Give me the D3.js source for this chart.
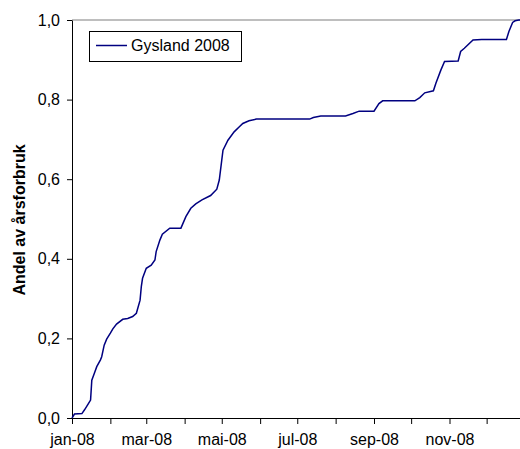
<!DOCTYPE html>
<html><head><meta charset="utf-8">
<script src="https://cdn.jsdelivr.net/npm/d3@7"></script>
<style>html,body{margin:0;padding:0;background:#fff;}svg{display:block;}</style>
</head><body>
<svg id="c" width="520" height="449"></svg>
<script>
const seriesName = "Gysland 2008";
const yLabel = "Andel av årsforbruk";
const dates = ["2008-01-01","2008-01-03","2008-01-09","2008-01-11","2008-01-14","2008-01-16","2008-01-17","2008-01-19","2008-01-21","2008-01-24","2008-01-25","2008-01-27","2008-01-29","2008-02-01","2008-02-03","2008-02-06","2008-02-11","2008-02-15","2008-02-19","2008-02-22","2008-02-25","2008-02-26","2008-02-27","2008-03-01","2008-03-05","2008-03-08","2008-03-09","2008-03-12","2008-03-14","2008-03-20","2008-03-29","2008-04-02","2008-04-06","2008-04-10","2008-04-15","2008-04-22","2008-04-27","2008-04-29","2008-05-01","2008-05-02","2008-05-06","2008-05-11","2008-05-15","2008-05-18","2008-05-23","2008-05-29","2008-07-11","2008-07-14","2008-07-20","2008-08-09","2008-08-15","2008-08-20","2008-09-01","2008-09-05","2008-09-08","2008-10-04","2008-10-08","2008-10-12","2008-10-19","2008-10-21","2008-10-25","2008-10-28","2008-11-08","2008-11-10","2008-11-13","2008-11-20","2008-11-27","2008-12-17","2008-12-19","2008-12-22","2008-12-24","2008-12-27","2008-12-28"];
const values = [0.000,0.010,0.011,0.020,0.035,0.045,0.095,0.112,0.129,0.146,0.154,0.183,0.198,0.213,0.224,0.236,0.248,0.250,0.255,0.263,0.296,0.330,0.351,0.376,0.384,0.397,0.418,0.447,0.462,0.477,0.477,0.506,0.527,0.538,0.548,0.559,0.575,0.598,0.648,0.673,0.698,0.719,0.731,0.740,0.747,0.751,0.751,0.755,0.759,0.759,0.765,0.771,0.771,0.790,0.797,0.797,0.805,0.817,0.822,0.841,0.874,0.896,0.897,0.921,0.929,0.950,0.951,0.951,0.971,0.994,0.998,1.000,1.000];
const yTicks = [0,0.2,0.4,0.6,0.8,1.0];
const monthNames = ["jan","feb","mar","apr","mai","jun","jul","aug","sep","okt","nov","des"];

const parse = d3.timeParse("%Y-%m-%d");
const data = dates.map((d,i)=>({date:parse(d), v:values[i]}));

const svg = d3.select("#c");
const L = 72, T = 20, B = 418, R = 525;
const x = d3.scaleTime().domain([parse("2008-01-01"), parse("2009-01-01")]).range([L, R]);
const y = d3.scaleLinear().domain([0,1]).range([B, T]);
const font = "'Liberation Sans', Arial, sans-serif";
const fs = 16;

// top border
svg.append("line").attr("x1",L).attr("x2",520).attr("y1",T).attr("y2",T)
  .attr("stroke","#a8a8a8").attr("stroke-width",1.5);

// y axis
const ya = svg.append("g").attr("transform",`translate(${L},0)`)
  .call(d3.axisLeft(y).tickValues(yTicks).tickSize(5).tickPadding(7)
    .tickFormat(d=>d3.format(".1f")(d).replace(".",",")).tickSizeOuter(0));
ya.select(".domain").attr("stroke","#000");
ya.selectAll("text").attr("font-family",font).attr("font-size",fs).attr("fill","#000");

// x axis
const months = d3.timeMonth.range(parse("2008-01-01"), parse("2009-01-01"));
const xa = svg.append("g").attr("transform",`translate(0,${B})`)
  .call(d3.axisBottom(x).tickValues(months).tickSize(6).tickPadding(10)
    .tickFormat(d=> d.getMonth()%2===0 ? monthNames[d.getMonth()]+"-"+d3.timeFormat("%y")(d) : "").tickSizeOuter(0));
xa.select(".domain").attr("stroke","#000");
xa.selectAll("text").attr("font-family",font).attr("font-size",fs).attr("fill","#000");

// y label
svg.append("text").attr("transform","translate(25,220) rotate(-90)")
  .attr("text-anchor","middle").attr("font-family",font).attr("font-size",fs)
  .attr("font-weight","bold").text(yLabel);

// line
const line = d3.line().x(d=>x(d.date)).y(d=>y(d.v));
svg.append("path").datum(data).attr("d",line).attr("fill","none")
  .attr("stroke","#000080").attr("stroke-width",1.5);

// legend
svg.append("rect").attr("x",89.5).attr("y",31.5).attr("width",152).attr("height",30)
  .attr("fill","#fff").attr("stroke","#000").attr("stroke-width",1);
svg.append("line").attr("x1",96).attr("x2",127).attr("y1",45.5).attr("y2",45.5)
  .attr("stroke","#000080").attr("stroke-width",1.5);
svg.append("text").attr("x",131).attr("y",51).attr("font-family",font).attr("font-size",fs)
  .text(seriesName);
</script>
</body></html>
